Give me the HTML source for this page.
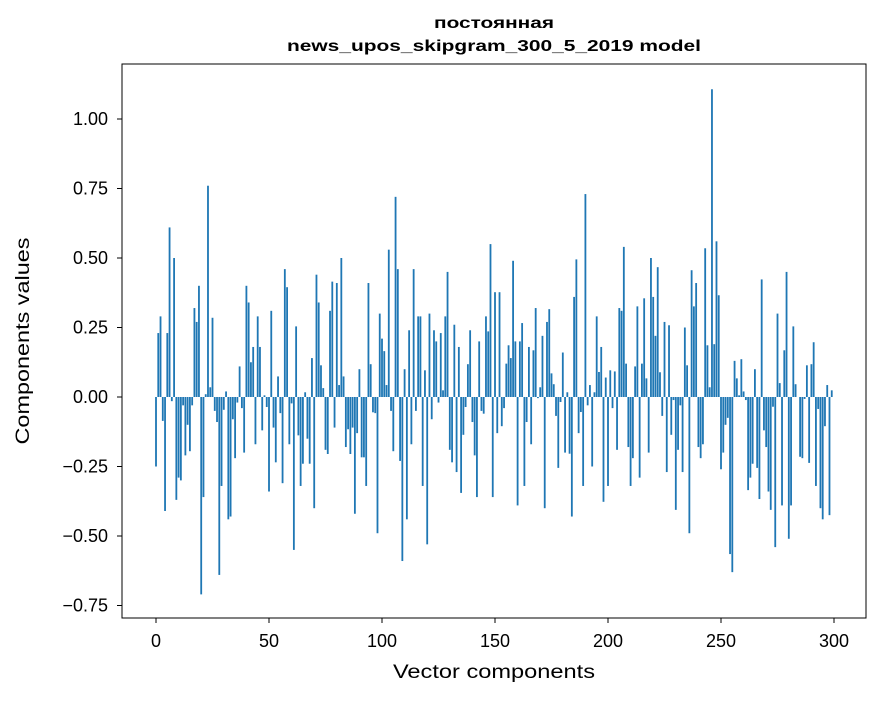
<!DOCTYPE html>
<html><head><meta charset="utf-8"><style>
body{margin:0;background:#fff;}
svg text{font-family:"Liberation Sans","DejaVu Sans",sans-serif;fill:#000;}
</style></head><body>
<svg id="chart" width="880" height="696" viewBox="0 0 880 696" xmlns="http://www.w3.org/2000/svg">
<rect width="880" height="696" fill="#fff"/>
<text x="494" y="28" font-size="16" font-weight="bold" text-anchor="middle" textLength="120" lengthAdjust="spacingAndGlyphs">постоянная</text>
<text x="494" y="51" font-size="16" font-weight="bold" text-anchor="middle" textLength="414" lengthAdjust="spacingAndGlyphs">news_upos_skipgram_300_5_2019 model</text>
<g id="bars"></g>
<rect x="122" y="64" width="744" height="554" fill="none" stroke="#000" stroke-width="1"/>
<g id="xticks"></g>
<g id="yticks"></g>
<text x="494" y="678" font-size="19" text-anchor="middle" textLength="202" lengthAdjust="spacingAndGlyphs">Vector components</text>
<text x="29" y="341" font-size="19" text-anchor="middle" transform="rotate(-90 29 341)" textLength="207" lengthAdjust="spacingAndGlyphs">Components values</text>
</svg>
<script>
const values = [-0.25,0.23,0.29,-0.086,-0.41,0.23,0.61,-0.015,0.50,-0.37,
-0.29,-0.30,-0.03,-0.21,-0.10,-0.195,-0.03,0.32,0.27,0.40,
-0.71,-0.36,0.01,0.76,0.035,0.285,-0.05,-0.09,-0.64,-0.32,
-0.046,0.02,-0.44,-0.43,-0.08,-0.22,-0.02,0.11,-0.04,-0.2,
0.40,0.34,0.125,0.18,-0.17,0.29,0.18,-0.12,0.006,-0.036,
-0.34,0.31,-0.11,-0.235,0.074,-0.058,-0.31,0.46,0.395,-0.17,
-0.023,-0.55,0.254,-0.138,-0.32,-0.24,0.017,-0.15,-0.24,0.14,
-0.40,0.44,0.34,0.114,0.032,-0.19,-0.205,0.31,0.415,-0.11,
0.41,0.043,0.50,0.074,-0.18,-0.116,-0.205,-0.11,-0.42,-0.13,
0.10,-0.217,-0.217,-0.32,0.41,0.118,-0.055,-0.058,-0.49,0.30,
0.21,0.165,0.043,0.53,-0.05,-0.195,0.72,0.46,-0.23,-0.59,
0.10,-0.44,0.24,-0.17,0.46,-0.05,0.29,0.29,-0.32,0.096,
-0.53,0.30,-0.08,0.24,0.20,-0.02,0.23,0.024,0.29,0.45,
-0.19,-0.235,0.26,-0.27,0.18,-0.345,-0.136,-0.036,0.118,0.24,
-0.09,-0.21,-0.36,0.20,-0.05,-0.06,0.29,0.236,0.55,-0.36,
0.377,-0.13,0.377,-0.105,-0.04,0.12,0.186,0.14,0.49,0.20,
-0.39,0.20,0.266,-0.32,-0.09,0.18,-0.17,0.168,0.32,-0.004,
0.035,0.22,-0.40,0.27,0.316,0.085,0.046,-0.068,-0.255,-0.018,
0.16,-0.20,0.017,-0.204,-0.43,0.36,0.495,-0.13,-0.054,-0.32,
0.73,-0.03,0.043,-0.25,0.017,0.29,0.09,0.18,-0.377,0.07,
-0.32,0.096,-0.04,0.092,-0.19,0.32,0.31,0.54,0.12,-0.18,
-0.32,-0.22,0.11,0.326,-0.29,0.12,0.355,0.067,-0.20,0.50,
0.36,0.22,0.467,0.089,-0.068,0.27,-0.27,0.258,-0.136,-0.011,
-0.406,-0.19,-0.03,-0.27,0.25,0.114,-0.49,0.456,0.326,0.41,
-0.18,-0.22,-0.17,0.535,0.186,0.035,1.107,0.19,0.56,0.366,
-0.26,-0.20,-0.10,-0.075,-0.565,-0.63,0.13,0.067,0.006,0.136,
0.02,-0.011,-0.335,-0.29,-0.24,0.10,-0.255,-0.367,0.423,-0.12,
-0.18,-0.34,-0.406,-0.035,-0.54,0.30,0.05,-0.39,0.168,0.45,
-0.51,-0.39,0.254,0.046,0,-0.215,-0.22,-0.007,0.114,-0.237,
0.118,0.197,-0.32,-0.043,-0.40,-0.44,-0.105,0.043,-0.425,0.024];
const xTickValues = [0,50,100,150,200,250,300];
const yTickValues = [-0.75,-0.5,-0.25,0,0.25,0.5,0.75,1.0];
const yTickLabels = ["\u22120.75","\u22120.50","\u22120.25","0.00","0.25","0.50","0.75","1.00"];

const NS="http://www.w3.org/2000/svg";
const xScale = v => 156 + v*2.26;
const yScale = v => 397 - v*278;
const bars=document.getElementById('bars');
values.forEach((v,i)=>{
  const r=document.createElementNS(NS,'rect');
  
  
  const y0=yScale(0), y1=yScale(v);
  r.setAttribute('x',xScale(i)-0.9);
  r.setAttribute('width',1.81);
  r.setAttribute('y',Math.min(y0,y1));
  r.setAttribute('height',Math.abs(y1-y0));
  r.setAttribute('fill','#1f77b4');
  bars.appendChild(r);
});
const xt=document.getElementById('xticks');
xTickValues.forEach(v=>{
  const x=xScale(v);
  const l=document.createElementNS(NS,'line');
  
  
  l.setAttribute('x1',x);l.setAttribute('x2',x);l.setAttribute('y1',618);l.setAttribute('y2',623);
  l.setAttribute('stroke','#000');
  xt.appendChild(l);
  const t=document.createElementNS(NS,'text');
  
  
  t.setAttribute('x',x);t.setAttribute('y',647);t.setAttribute('font-size','18');t.setAttribute('text-anchor','middle');
  t.textContent=String(v);
  xt.appendChild(t);
});
const yt=document.getElementById('yticks');
yTickValues.forEach((v,i)=>{
  const y=yScale(v);
  const l=document.createElementNS(NS,'line');
  
  
  l.setAttribute('x1',117);l.setAttribute('x2',122);l.setAttribute('y1',y);l.setAttribute('y2',y);
  l.setAttribute('stroke','#000');
  yt.appendChild(l);
  const t=document.createElementNS(NS,'text');
  
  
  t.setAttribute('x',108);t.setAttribute('y',y+6);t.setAttribute('font-size','18');t.setAttribute('text-anchor','end');
  t.textContent=yTickLabels[i];
  yt.appendChild(t);
});
</script>
</body></html>
